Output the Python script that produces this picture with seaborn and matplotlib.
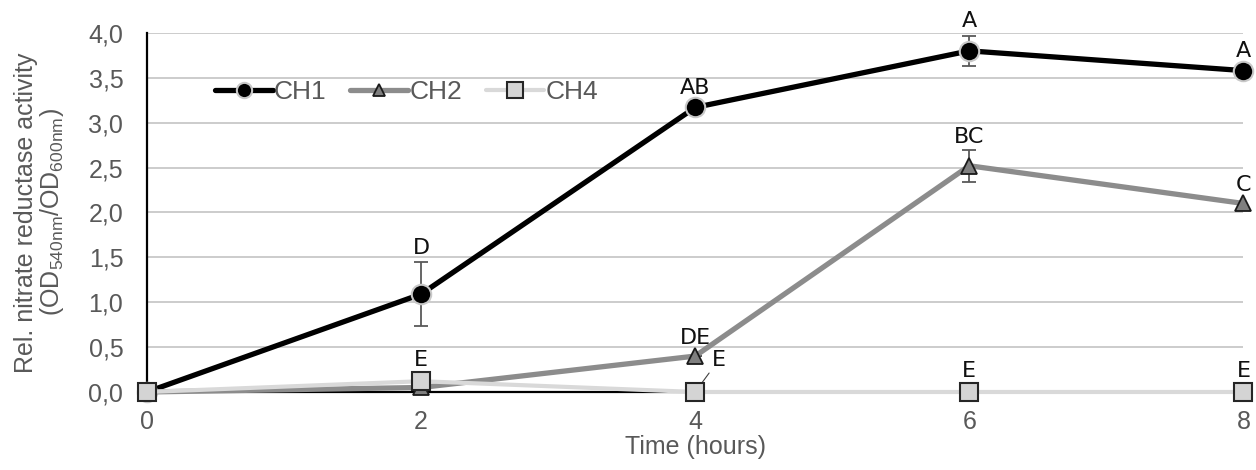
import numpy as np
import pandas as pd
import matplotlib
matplotlib.use("Agg")
import matplotlib.pyplot as plt
from matplotlib.lines import Line2D
import seaborn as sns

# ---- data ----
time_h = [0, 2, 4, 6, 8]
ch1 = [0.0, 1.09, 3.17, 3.80, 3.58]
ch2 = [0.0, 0.05, 0.40, 2.52, 2.10]
ch4 = [0.0, 0.12, 0.0, 0.0, 0.0]
ch1_err = [0.0, 0.36, 0.0, 0.17, 0.0]
ch2_err = [0.0, 0.0, 0.0, 0.18, 0.0]
ch1_letters = ["", "D", "AB", "A", "A"]
ch2_letters = ["", "", "DE", "BC", "C"]
ch4_letters = ["", "E", "E", "E", "E"]
yticks = [0.0, 0.5, 1.0, 1.5, 2.0, 2.5, 3.0, 3.5, 4.0]
xticks = [0, 2, 4, 6, 8]
series_names = ["CH1", "CH2", "CH4"]

sns.set_style("white")
plt.rcParams['font.family'] = ['Liberation Sans', 'DejaVu Sans']

fig = plt.figure(figsize=(12.56, 4.70), dpi=100)
ax = fig.add_axes([0.117, 0.166, 0.873, 0.764])

df = pd.DataFrame({
    "time": time_h * 3,
    "value": ch1 + ch2 + ch4,
    "series": ["CH1"] * 5 + ["CH2"] * 5 + ["CH4"] * 5,
})

styles = {
    "CH4": dict(color="#d9d9d9", lw=3, marker="s", ms=13, mfc="#d4d4d4", mec="#262626", mew=1.5),
    "CH2": dict(color="#8c8c8c", lw=3.8, marker="^", ms=11, mfc="#7f7f7f", mec="#1a1a1a", mew=1.3),
    "CH1": dict(color="#000000", lw=3.8, marker="o", ms=14, mfc="#000000", mec="#c8c8c8", mew=1.5),
}

# grid
for yv in yticks[1:]:
    ax.axhline(yv, color="#c8c8c8", lw=1.3, zorder=0)

# error bars
ax.errorbar(time_h, ch1, yerr=ch1_err, fmt="none", ecolor="#595959", elinewidth=1.3, capsize=5, capthick=1.3, zorder=2)
ax.errorbar(time_h, ch2, yerr=ch2_err, fmt="none", ecolor="#595959", elinewidth=1.3, capsize=5, capthick=1.3, zorder=2)

for name, z in [("CH1", 3), ("CH2", 4), ("CH4", 5)]:
    sub = df[df["series"] == name]
    st = styles[name]
    sns.lineplot(data=sub, x="time", y="value", ax=ax, color=st["color"], lw=st["lw"],
                 marker=st["marker"], markersize=st["ms"], markerfacecolor=st["mfc"],
                 markeredgecolor=st["mec"], markeredgewidth=st["mew"], zorder=z,
                 clip_on=False, legend=False)

# letters
lfs = 16
lkw = dict(ha="center", va="bottom", fontsize=lfs, family="DejaVu Sans", color="#111111",
           textcoords="offset points", annotation_clip=False)
for x, y, e, t in zip(time_h, ch1, ch1_err, ch1_letters):
    if t:
        ax.annotate(t, (x, y + e), xytext=(0, 3 if e else 7), **lkw)
for x, y, e, t in zip(time_h, ch2, ch2_err, ch2_letters):
    if t:
        ax.annotate(t, (x, y + e), xytext=(0, 2 if e else 6), **lkw)
for x, y, t in zip(time_h, ch4, ch4_letters):
    if t and x != 4:
        ax.annotate(t, (x, y), xytext=(0, 8), **lkw)
    elif t:
        kw = dict(lkw)
        kw["ha"] = "left"
        ax.annotate(t, (x, y), xytext=(12, 16), arrowprops=dict(arrowstyle="-", color="#404040",
                    lw=0.8, shrinkA=0, shrinkB=8), **kw)

ax.set_xlim(0, 8)
ax.set_ylim(0, 4.0)
ax.set_xticks(xticks)
ax.set_xticklabels([str(v) for v in xticks])
ax.set_yticks(yticks)
ax.set_yticklabels([f"{v:.1f}".replace(".", ",") for v in yticks])
ax.tick_params(axis="both", labelsize=18, colors="#595959", length=0)
ax.tick_params(axis="y", pad=17)
ax.tick_params(axis="x", pad=13)

for s in ["top", "right"]:
    ax.spines[s].set_visible(False)
for s in ["left", "bottom"]:
    ax.spines[s].set_color("#000000")
    ax.spines[s].set_linewidth(1.6)
    ax.spines[s].set_zorder(1)

ax.set_xlabel("Time (hours)", fontsize=18, color="#595959", labelpad=1)
ax.set_ylabel("Rel. nitrate reductase activity\n(OD$_\\mathregular{540nm}$/OD$_\\mathregular{600nm}$)",
              fontsize=18, color="#595959", labelpad=16, linespacing=1.0)

handles = []
for name in series_names:
    st = styles[name]
    handles.append(Line2D([], [], color=st["color"], lw=st["lw"], marker=st["marker"],
                          markersize={"CH1": 11, "CH2": 9, "CH4": 11}[name],
                          markerfacecolor=st["mfc"], markeredgecolor=st["mec"], markeredgewidth=st["mew"]))
leg = ax.legend(handles=handles, labels=series_names, loc="center left",
                bbox_to_anchor=(0.052, 0.836), ncol=3, frameon=False,
                fontsize=19, handlelength=2.2, columnspacing=0.9, handletextpad=0.05, borderaxespad=0)
for t in leg.get_texts():
    t.set_color("#595959")

fig.savefig("out.png", dpi=100)
